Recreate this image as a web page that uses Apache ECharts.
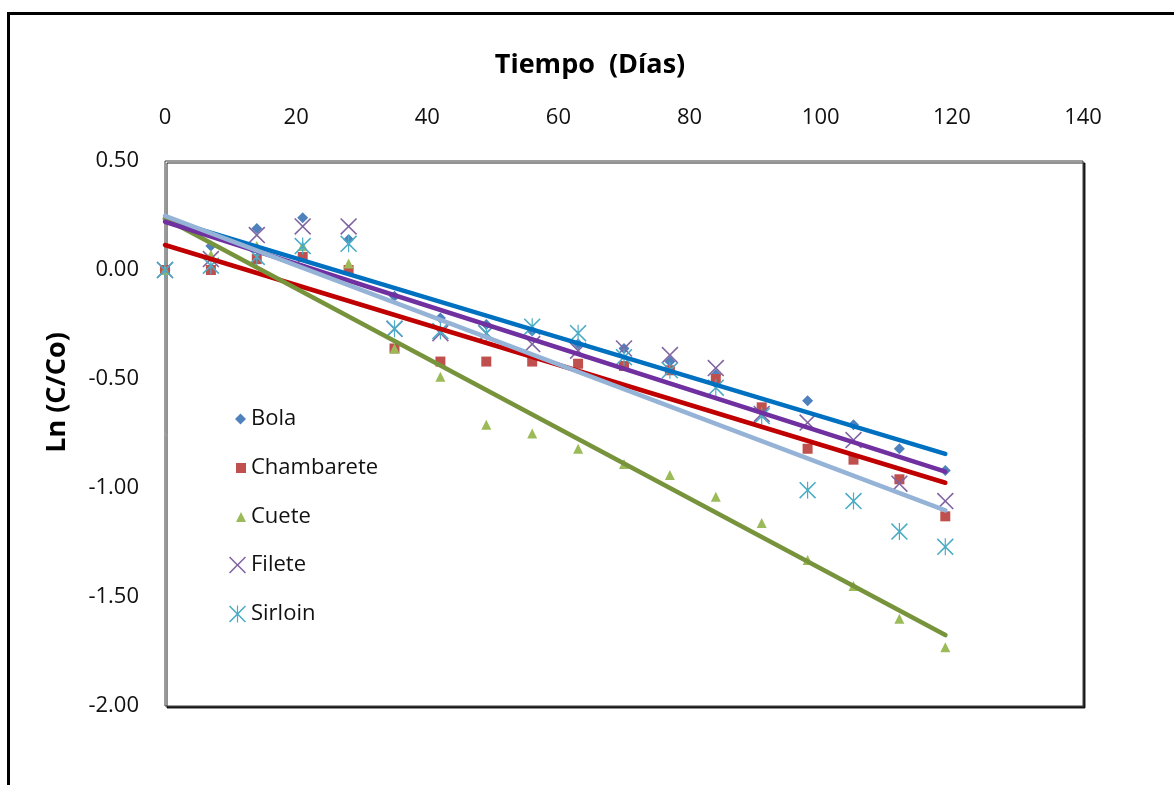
<!DOCTYPE html>
<html>
<head>
<meta charset="utf-8">
<title>Ln (C/Co) vs Tiempo</title>
<script src="https://cdn.jsdelivr.net/npm/echarts@6/dist/echarts.min.js"></script>
<style>
  html, body { margin: 0; padding: 0; background: #fff; }
  #chart { width: 1174px; height: 785px; }
</style>
</head>
<body>
<div id="chart"></div>
<script>
// Sampling days
const days = [0, 7, 14, 21, 28, 35, 42, 49, 56, 63, 70, 77, 84, 91, 98, 105, 112, 119];

// Ln(C/Co) per cut
const bola       = [0, 0.11, 0.19, 0.24, 0.14, -0.12, -0.22, -0.25, -0.28, -0.34, -0.36, -0.42, -0.48, -0.64, -0.60, -0.71, -0.82, -0.92];
const chambarete = [0, 0.00, 0.05, 0.06, 0.00, -0.36, -0.42, -0.42, -0.42, -0.43, -0.44, -0.46, -0.50, -0.63, -0.82, -0.87, -0.96, -1.13];
const cuete      = [0, 0.07, 0.11, 0.11, 0.03, -0.36, -0.49, -0.71, -0.75, -0.82, -0.89, -0.94, -1.04, -1.16, -1.33, -1.45, -1.60, -1.73];
const filete     = [0, 0.05, 0.16, 0.20, 0.20, -0.27, -0.29, -0.29, -0.34, -0.37, -0.36, -0.39, -0.45, -0.66, -0.70, -0.78, -0.98, -1.06];
const sirloin    = [0, 0.02, 0.06, 0.11, 0.12, -0.27, -0.28, -0.29, -0.26, -0.29, -0.40, -0.46, -0.54, -0.67, -1.01, -1.06, -1.20, -1.27];

const xTicks = [0, 20, 40, 60, 80, 100, 120, 140];
const yTicks = [-2.00, -1.50, -1.00, -0.50, 0.00, 0.50];

const FONT = '"Open Sans", "Noto Sans", sans-serif';

// Thin-stroke marker shapes (filled outlines so they scale cleanly)
const X_PATH = 'path://M0,1.3 L1.3,0 L10,8.7 L18.7,0 L20,1.3 L11.3,10 L20,18.7 L18.7,20 L10,11.3 L1.3,20 L0,18.7 L8.7,10 Z';
const STAR_PATH = 'path://M0,1.3 L1.3,0 L10,8.7 L18.7,0 L20,1.3 L11.3,10 L20,18.7 L18.7,20 L10,11.3 L1.3,20 L0,18.7 L8.7,10 Z ' +
                  'M9.3,0 L10.7,0 L10.7,20 L9.3,20 Z';

const cuts = [
  { name: 'Bola',       ys: bola,       symbol: 'diamond',  size: 11, mark: '#4F81BD', trend: '#0070C0' },
  { name: 'Chambarete', ys: chambarete, symbol: 'rect',     size: 10, mark: '#C0504D', trend: '#C00000' },
  { name: 'Cuete',      ys: cuete,      symbol: 'triangle', size: 10, mark: '#9BBB59', trend: '#77933C' },
  { name: 'Filete',     ys: filete,     symbol: X_PATH,     size: 17, mark: '#8064A2', trend: '#7030A0' },
  { name: 'Sirloin',    ys: sirloin,    symbol: STAR_PATH,  size: 17, mark: '#4BACC6', trend: '#95B3D7' }
];

// Least-squares linear trend over the sampled days
function linearFit(xs, ys) {
  const n = xs.length;
  const mx = xs.reduce((a, b) => a + b, 0) / n;
  const my = ys.reduce((a, b) => a + b, 0) / n;
  let sxy = 0, sxx = 0;
  for (let i = 0; i < n; i++) {
    sxy += (xs[i] - mx) * (ys[i] - my);
    sxx += (xs[i] - mx) * (xs[i] - mx);
  }
  const slope = sxy / sxx;
  return { slope, intercept: my - slope * mx };
}

const series = [];
cuts.forEach(c => {
  series.push({
    name: c.name,
    type: 'scatter',
    symbol: c.symbol,
    symbolSize: c.size,
    itemStyle: { color: c.mark, opacity: 1 },
    data: days.map((d, i) => [d, c.ys[i]]),
    z: 2
  });
});
cuts.forEach(c => {
  const fit = linearFit(days, c.ys);
  const x0 = days[0], x1 = days[days.length - 1];
  series.push({
    name: 'Lineal (' + c.name + ')',
    type: 'line',
    showSymbol: false,
    symbol: 'none',
    silent: true,
    lineStyle: { color: c.trend, width: 4.5, cap: 'round' },
    data: [[x0, fit.intercept + fit.slope * x0], [x1, fit.intercept + fit.slope * x1]],
    z: 3
  });
});

// One legend block per cut so each keeps its own marker size
const legendTops = [408, 457, 506, 554, 603];
const legends = cuts.map((c, i) => {
  const w = c.size;
  return {
    data: [{ name: c.name, icon: c.symbol }],
    left: 251 - 5 - w,
    top: legendTops[i],
    padding: 0,
    itemWidth: w,
    itemHeight: w,
    selectedMode: false,
    textStyle: { fontFamily: FONT, fontSize: 22, color: '#111' }
  };
});

const chart = echarts.init(document.getElementById('chart'), null, { renderer: 'canvas' });
chart.setOption({
  backgroundColor: '#fff',
  animation: false,
  graphic: [{
    type: 'rect',
    shape: { x: 8.5, y: 13.5, width: 1300, height: 900 },
    style: { fill: 'none', stroke: '#000', lineWidth: 3 },
    silent: true,
    z: 100
  }],
  grid: {
    show: true,
    left: 165, top: 161, right: 91, bottom: 79,
    backgroundColor: '#fff',
    borderColor: '#3a3a3a',
    borderWidth: 1,
    shadowColor: 'rgba(0,0,0,0.85)',
    shadowOffsetX: 2,
    shadowOffsetY: 2,
    shadowBlur: 0
  },
  legend: legends,
  xAxis: {
    type: 'value',
    position: 'top',
    min: xTicks[0],
    max: xTicks[xTicks.length - 1],
    interval: 20,
    name: 'Tiempo  (Días)',
    nameLocation: 'middle',
    nameGap: 82,
    nameTextStyle: { fontFamily: FONT, fontSize: 27, fontWeight: 'bold', color: '#000', padding: [0, 68, 0, 0] },
    axisLine: { show: false },
    axisTick: { show: false },
    splitLine: { show: false },
    axisLabel: { fontFamily: FONT, fontSize: 22, color: '#111', margin: 32 }
  },
  yAxis: {
    type: 'value',
    min: yTicks[0],
    max: yTicks[yTicks.length - 1],
    interval: 0.5,
    name: 'Ln (C/Co)',
    nameLocation: 'middle',
    nameRotate: 90,
    nameGap: 94,
    nameTextStyle: { fontFamily: FONT, fontSize: 27, fontWeight: 'bold', color: '#000', padding: [0, 0, 0, 82] },
    axisLine: { show: false },
    axisTick: { show: false },
    splitLine: { show: false },
    axisLabel: {
      fontFamily: FONT, fontSize: 22, color: '#111', margin: 26,
      formatter: v => v.toFixed(2)
    }
  },
  series: series
});
</script>
</body>
</html>
